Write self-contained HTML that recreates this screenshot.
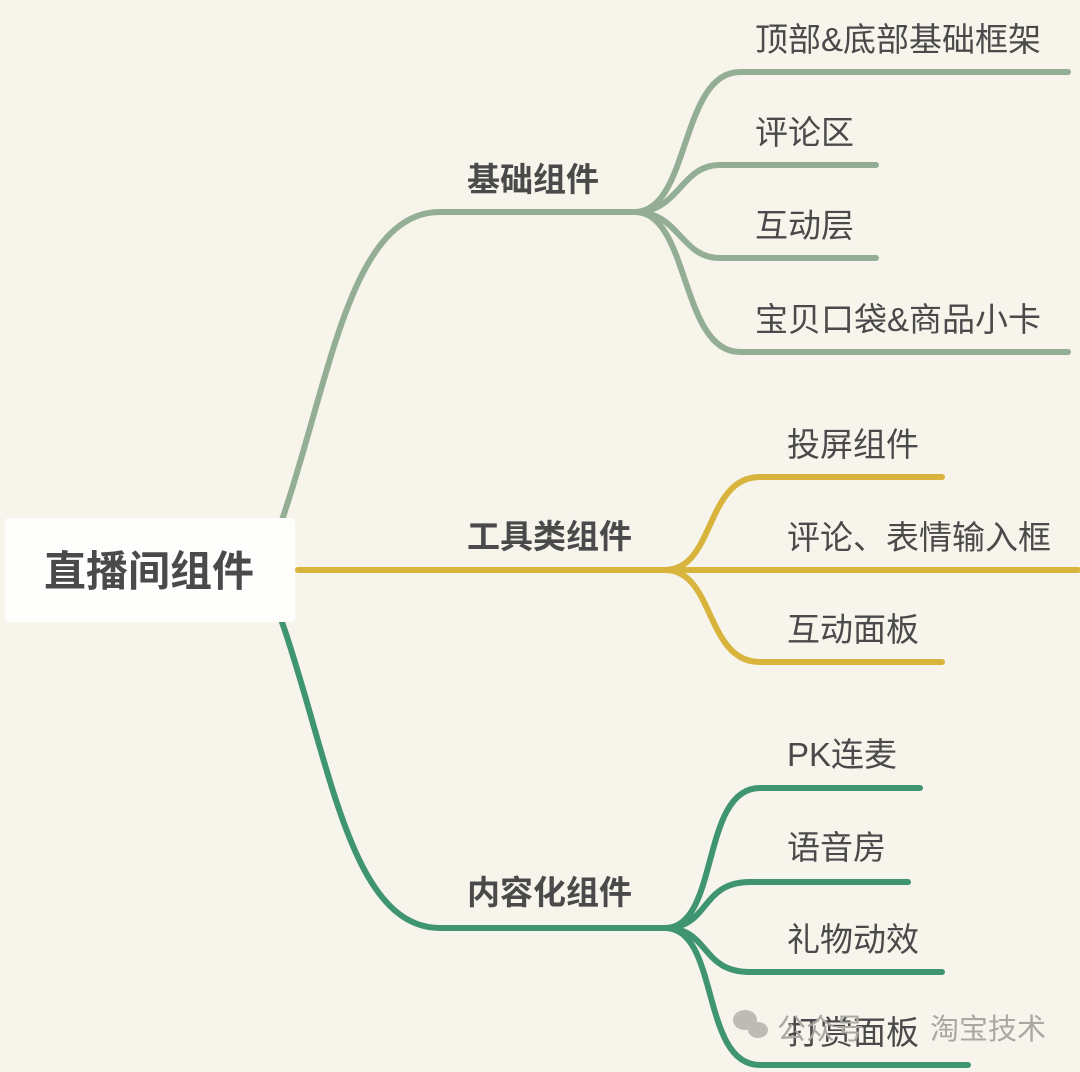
<!DOCTYPE html>
<html><head><meta charset="utf-8"><style>
html,body{margin:0;padding:0;background:#f7f4ec;}
svg{display:block}
text{font-family:"Liberation Sans","Noto Sans CJK SC",sans-serif;fill:#4a4a4a;}
</style></head><body>
<svg width="1080" height="1072" viewBox="0 0 1080 1072" xmlns="http://www.w3.org/2000/svg">
<rect width="1080" height="1072" fill="#f7f4ec"/>
<g fill="none" stroke-linecap="round" stroke-width="6">
<g stroke="#93ae94">
<path d="M282 520 C330 380 350 212 440 212 L640 212"/>
<path d="M635 212 C690 212 680 72 740 72 L1068 72"/>
<path d="M635 212 C680 212 680 165 720 165 L876 165"/>
<path d="M635 212 C680 212 680 258 720 258 L876 258"/>
<path d="M635 212 C690 212 680 352 740 352 L1068 352"/>
</g>
<g stroke="#d8b43c">
<path d="M298 570 L670 570"/>
<path d="M665 570 C715 570 705 477 760 477 L942 477"/>
<path d="M665 570 L1078 570"/>
<path d="M665 570 C715 570 705 662 760 662 L942 662"/>
</g>
<g stroke="#3f9472">
<path d="M282 622 C330 760 350 928 440 928 L670 928"/>
<path d="M665 928 C720 928 700 788 760 788 L920 788"/>
<path d="M665 928 C710 928 700 882 750 882 L908 882"/>
<path d="M665 928 C710 928 700 972 750 972 L942 972"/>
<path d="M665 928 C720 928 700 1065 760 1065 L968 1065"/>
</g>
</g>
<rect x="5" y="518" width="290" height="104" rx="4" fill="#fefefd"/>
<text x="44" y="586" font-size="42" font-weight="bold">直播间组件</text>
<text x="467" y="191" font-size="33" font-weight="bold">基础组件</text>
<text x="467" y="548" font-size="33" font-weight="bold">工具类组件</text>
<text x="467" y="904" font-size="33" font-weight="bold">内容化组件</text>
<g font-size="33">
<text x="755" y="51">顶部&amp;底部基础框架</text>
<text x="755" y="144">评论区</text>
<text x="755" y="237">互动层</text>
<text x="755" y="331">宝贝口袋&amp;商品小卡</text>
<text x="787" y="456">投屏组件</text>
<text x="787" y="549">评论、表情输入框</text>
<text x="787" y="641">互动面板</text>
<text x="787" y="766">PK连麦</text>
<text x="787" y="859">语音房</text>
<text x="787" y="951">礼物动效</text>
<text x="787" y="1044">打赏面板</text>
</g>
<g fill="#bdbbb6"><ellipse cx="745" cy="1020" rx="12" ry="10"/><ellipse cx="758" cy="1030" rx="10" ry="8"/></g>
<text x="777" y="1039" font-size="29" style="fill:#aaa8a3">公众号</text>
<text x="930" y="1039" font-size="29" style="fill:#aaa8a3">淘宝技术</text>
</svg>
</body></html>
